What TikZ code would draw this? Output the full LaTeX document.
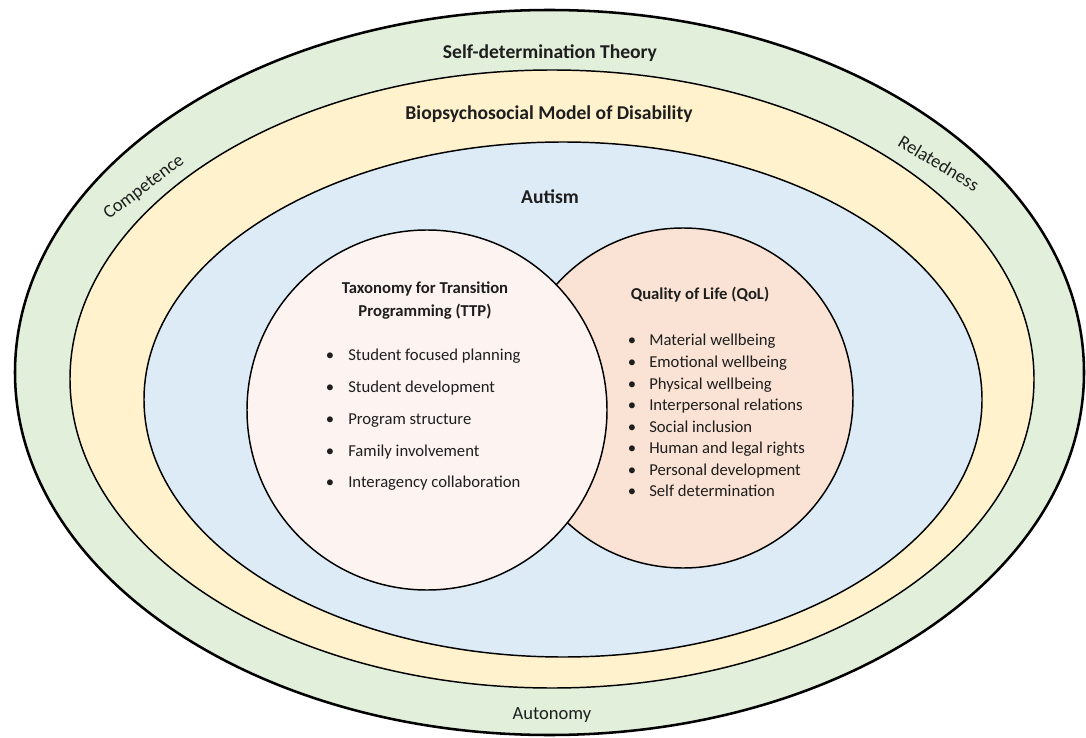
\documentclass[tikz,border=0pt]{standalone}
\usepackage{fontspec}
\setmainfont{Carlito}
\definecolor{sdtgreen}{HTML}{E2EFDA}
\definecolor{bpmyellow}{HTML}{FFF2CC}
\definecolor{autblue}{HTML}{DDEBF7}
\definecolor{ttppink}{HTML}{FDF4F2}
\definecolor{qolpeach}{HTML}{FAE3D4}
\definecolor{inktext}{HTML}{1E1E1E}
\begin{document}
\begin{tikzpicture}[x=0.75pt,y=-0.75pt,
  ring/.style={draw=black, line width=1.1pt},
  outerring/.style={draw=black, line width=1.9pt},
  title/.style={inner sep=0pt, text=inktext,
    font=\fontsize{14.7}{17}\selectfont\bfseries,
    text height=10.5pt, text depth=0.3pt},
  ringlabel/.style={inner sep=0pt, text=inktext,
    font=\fontsize{13.9}{16}\selectfont,
    text height=10pt, text depth=0.3pt},
  subtitle/.style={inner sep=0pt, text=inktext, align=center,
    font=\fontsize{12.5}{17.25}\selectfont\bfseries},
  dotmark/.style={inner sep=0pt, text=inktext,
    font=\fontsize{12.5}{15}\selectfont,
    text height=9pt, text depth=0.2pt},
  itemtext/.style={inner sep=0pt, anchor=west, text=inktext,
    font=\fontsize{12.5}{15}\selectfont,
    text height=9pt, text depth=0.2pt}]
\useasboundingbox (0,0) rectangle (1086,738);

% nested frameworks
\filldraw[outerring, fill=sdtgreen] (549.5,372.5) ellipse [x radius=534.5, y radius=362.5];
\filldraw[ring, fill=bpmyellow] (552,379) ellipse [x radius=482, y radius=309];
\filldraw[ring, fill=autblue] (563,399.5) ellipse [x radius=419, y radius=257.5];

% overlapping circles: QoL behind, TTP in front
\filldraw[ring, fill=qolpeach] (683,398) circle [radius=170];
\filldraw[ring, fill=ttppink] (427,410) circle [radius=180];

% ring titles
\node[title] (sdt) at (550,52) {Self-determination Theory};
\node[title] (bpm) at (549,113) {Biopsychosocial Model of Disability};
\node[title] (aut) at (550,197) {Autism};

% basic psychological needs
\node[ringlabel, rotate=37] (competence) at (143,186) {Competence};
\node[ringlabel, rotate=-31] (relatedness) at (939,163) {Relatedness};
\node[ringlabel] (autonomy) at (552,713) {Autonomy};

% TTP circle
\node[subtitle] (ttp) at (425,300.5) {Taxonomy for Transition\\Programming (TTP)};
\foreach \t [count=\i, evaluate=\i as \yy using 355+(\i-1)*31.75] in
  {Student focused planning, Student development, Program structure,
   Family involvement, Interagency collaboration} {
  \node[dotmark] (ttpdot\i) at (330,\yy) {\textbullet};
  \node[itemtext] (ttpitem\i) at (348,\yy) {\t};
}

% QoL circle
\node[subtitle] (qol) at (700,295) {Quality of Life (QoL)};
\foreach \t [count=\i, evaluate=\i as \yy using 340+(\i-1)*21.57] in
  {Material wellbeing, Emotional wellbeing, Physical wellbeing,
   Interpersonal relations, Social inclusion, Human and legal rights,
   Personal development, Self determination} {
  \node[dotmark] (qoldot\i) at (632,\yy) {\textbullet};
  \node[itemtext] (qolitem\i) at (649,\yy) {\t};
}
\end{tikzpicture}
\end{document}
